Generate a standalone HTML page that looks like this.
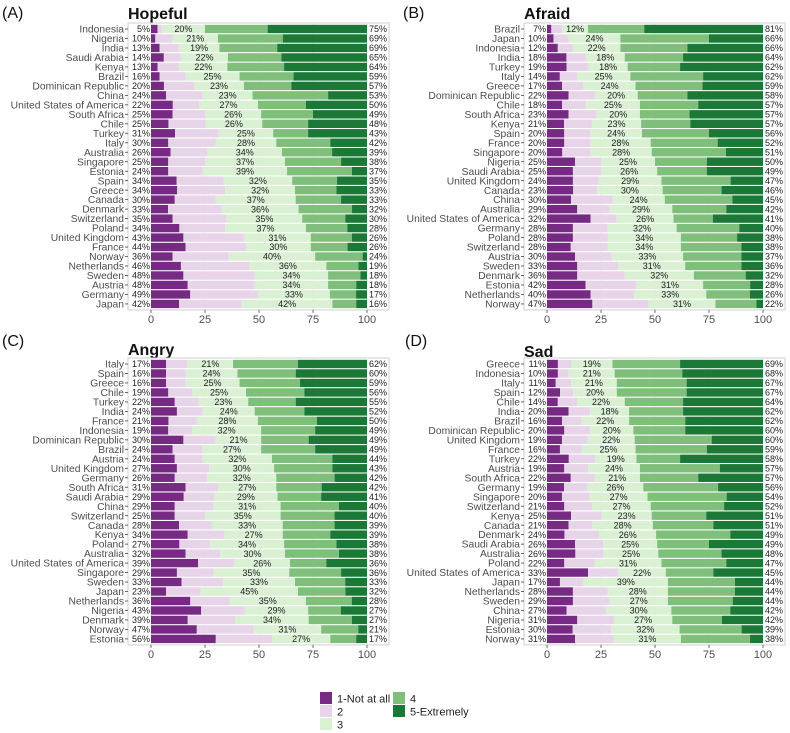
<!DOCTYPE html>
<html><head><meta charset="utf-8">
<style>
body{margin:0;background:#fff;font-family:"Liberation Sans",Arial,sans-serif;}
svg{display:block}
text{font-family:"Liberation Sans",Arial,sans-serif}
</style></head>
<body>
<svg id="chart" width="790" height="733" viewBox="0 0 790 733" xmlns="http://www.w3.org/2000/svg"></svg>
<script>
const countriesA=["Indonesia","Nigeria","India","Saudi Arabia","Kenya","Brazil","Dominican Republic","China","United States of America","South Africa","Chile","Turkey","Italy","Australia","Singapore","Estonia","Spain","Greece","Canada","Denmark","Switzerland","Poland","United Kingdom","France","Norway","Netherlands","Sweden","Austria","Germany","Japan"];
const notAtAllA=[3,2,4,6,3,4,6,7,10,10,8,11,8,9,8,8,12,12,11,8,10,13,15,16,10,14,15,17,18,13];
const lowA=[5,10,13,14,13,16,20,24,22,25,25,31,30,26,25,24,34,34,30,33,35,34,43,44,36,46,48,48,49,42];
const midA=[20,21,19,22,22,25,23,23,27,26,26,25,28,34,37,39,32,32,37,36,35,37,31,30,40,36,34,34,33,42];
const highA=[75,69,69,65,64,59,57,53,50,49,48,43,42,39,38,37,35,33,33,32,30,28,26,26,24,19,18,18,17,16];
const extremelyA=[46,39,42,40,38,34,35,18,28,25,27,27,17,16,12,7,14,14,12,7,10,9,7,9,2,4,3,5,5,5];

const countriesB=["Brazil","Japan","Indonesia","India","Turkey","Italy","Greece","Dominican Republic","Chile","South Africa","Kenya","Spain","France","Singapore","Nigeria","Saudi Arabia","United Kingdom","Canada","China","Australia","United States of America","Germany","Poland","Switzerland","Austria","Sweden","Denmark","Estonia","Netherlands","Norway"];
const notAtAllB=[2,3,5,9,9,6,7,10,7,10,8,8,8,7,13,12,12,12,11,14,20,12,12,11,13,14,14,18,20,21];
const lowB=[7,10,12,18,19,14,17,22,18,23,21,20,20,20,25,25,24,23,30,29,32,28,28,28,30,33,36,42,40,47];
const midB=[12,24,22,18,18,25,24,20,25,20,23,24,28,28,25,26,29,30,24,29,26,32,34,34,33,31,32,31,33,31];
const highB=[81,66,66,64,62,62,59,58,57,57,57,56,52,51,50,49,47,46,45,42,41,40,38,38,37,36,32,28,26,22];
const extremelyB=[55,25,35,37,38,28,28,35,30,34,34,25,21,17,26,26,15,19,14,17,23,11,12,10,10,10,8,6,6,3];

const countriesC=["Italy","Spain","Greece","Chile","Turkey","India","France","Indonesia","Dominican Republic","Brazil","Austria","United Kingdom","Germany","South Africa","Saudi Arabia","China","Switzerland","Canada","Kenya","Poland","Australia","United States of America","Singapore","Sweden","Japan","Netherlands","Nigeria","Denmark","Norway","Estonia"];
const notAtAllC=[7,7,7,8,11,12,8,8,15,10,11,12,11,16,15,11,11,13,17,13,16,22,12,14,7,18,23,17,21,30];
const lowC=[17,16,16,19,22,24,21,19,30,24,24,27,26,31,29,29,25,28,34,27,32,39,29,33,23,36,43,39,47,56];
const midC=[21,24,25,25,23,24,28,32,21,27,32,30,32,27,29,31,35,33,27,34,30,26,35,33,45,35,29,34,31,27];
const highC=[62,60,59,56,55,52,50,49,49,49,44,43,42,42,41,40,40,39,39,38,38,36,36,33,32,28,27,27,21,17];
const extremelyC=[32,33,31,29,33,29,23,24,27,24,16,16,15,21,21,13,15,15,17,14,13,19,12,10,10,7,12,7,4,5];

const countriesD=["Greece","Indonesia","Italy","Spain","Chile","India","Brazil","Dominican Republic","United Kingdom","France","Turkey","Austria","South Africa","Germany","Singapore","Switzerland","Kenya","Canada","Denmark","Saudi Arabia","Australia","Poland","United States of America","Japan","Netherlands","Sweden","China","Nigeria","Estonia","Norway"];
const notAtAllD=[5,5,4,6,5,10,7,8,7,6,10,8,11,8,7,8,11,10,8,13,13,8,19,6,12,12,9,14,12,13];
const lowD=[11,10,11,12,14,20,16,20,19,16,22,19,22,19,20,21,25,21,24,26,26,22,33,17,28,29,27,31,30,31];
const midD=[19,21,21,20,22,18,22,20,22,25,19,24,21,26,27,27,23,28,26,25,25,31,22,39,28,27,30,27,32,31];
const highD=[69,68,67,67,64,62,62,60,60,59,58,57,57,56,54,52,51,51,49,49,48,47,45,44,44,44,42,42,39,38];
const extremelyD=[38,37,35,35,37,37,36,36,24,26,38,20,30,21,17,18,26,23,15,25,19,17,23,13,13,14,15,19,10,6];

const xTicks=[0,25,50,75,100];
const legendLabels=["1-Not at all","2","3","4","5-Extremely"];
</script>
<script>
const NS="http://www.w3.org/2000/svg";
const svg=document.getElementById('chart');
const colors=["#762a83","#e7d4e8","#d9f0d3","#7fbf7b","#1b7837"];
function mk(tag,attrs,parent){const e=document.createElementNS(NS,tag);for(const k in attrs)e.setAttribute(k,attrs[k]);(parent||svg).appendChild(e);return e;}
function txt(s,attrs,parent){const e=mk('text',attrs,parent);e.textContent=s;return e;}

function panel(key,letter,title,letterX,letterY,titleX,titleY,boxX,boxY,x0,countries,p1,low,mid,high,p5){
  const g=mk('g',{});
  
  
  const W=216, n=countries.length, rowH=9.48, barH=8.4;
  const xs=v=>x0+v/100*W;
  const yc=i=>boxY+6+i*rowH;
  const boxW=261, boxH=12+(n-1)*rowH;
  const lt=txt(letter,{x:letterX,y:letterY,'font-size':16,fill:'#111'},g);
  
  
  const tt=txt(title,{x:titleX,y:titleY,'font-size':16,'font-weight':'bold',fill:'#111'},g);
  
  
  const box=mk('rect',{x:boxX,y:boxY,width:boxW,height:boxH,fill:'#fff',stroke:'#cfcfcf','stroke-width':1},g);
  
  
  xTicks.forEach(t=>{
    mk('line',{x1:xs(t),x2:xs(t),y1:boxY,y2:boxY+boxH,stroke:'#ebebeb','stroke-width':0.8},g);
    mk('line',{x1:xs(t),x2:xs(t),y1:boxY+boxH,y2:boxY+boxH+3,stroke:'#444','stroke-width':0.8},g);
    const tl=txt(String(t),{x:xs(t),y:boxY+boxH+13,'font-size':11,fill:'#4d4d4d','text-anchor':'middle'},g);
    
    
  });
  for(let i=0;i<n;i++){
    const c=yc(i), top=c-barH/2;
    const vals=[p1[i],low[i]-p1[i],mid[i],high[i]-p5[i],p5[i]];
    const tot=low[i]+mid[i]+high[i];
    let acc=0;
    vals.forEach((v,k)=>{
      const r=mk('rect',{x:xs(acc/tot*100),y:top,width:Math.max(0,xs((acc+v)/tot*100)-xs(acc/tot*100)),height:barH,fill:colors[k]},g);
      
      
      acc+=v;
    });
    const cl=txt(countries[i],{x:boxX-4,y:c+3.6,'font-size':10.3,fill:'#4d4d4d','text-anchor':'end'},g);
    
    
    mk('line',{x1:boxX-3,x2:boxX,y1:c,y2:c,stroke:'#444','stroke-width':0.8},g);
    const l1=txt(low[i]+'%',{x:x0-1,y:c+3.2,'font-size':9,fill:'#222','text-anchor':'end'},g);
    
    
    const mc=(low[i]+mid[i]/2)/tot*100;
    const l2=txt(mid[i]+'%',{x:xs(mc),y:c+3.2,'font-size':9,fill:'#222','text-anchor':'middle'},g);
    
    
    const l3=txt(high[i]+'%',{x:xs(100)+2,y:c+3.2,'font-size':9,fill:'#222'},g);
    
    
  }
}
panel('a','(A)','Hopeful',2,18,128,19,128,23,151,countriesA,notAtAllA,lowA,midA,highA,extremelyA);
panel('b','(B)','Afraid',403,18,524,19,524,23,547,countriesB,notAtAllB,lowB,midB,highB,extremelyB);
panel('c','(C)','Angry',2,346,128,355,128,358,151,countriesC,notAtAllC,lowC,midC,highC,extremelyC);
panel('d','(D)','Sad',405,346,524,357,524,358,547,countriesD,notAtAllD,lowD,midD,highD,extremelyD);

const lg=mk('g',{});


const pos=[[320,692],[320,705],[320,718],[393,692],[393,705]];
legendLabels.forEach((lab,k)=>{
  const sw=mk('rect',{x:pos[k][0],y:pos[k][1],width:12,height:12,fill:colors[k]},lg);
  
  
  const t=txt(lab,{x:pos[k][0]+17,y:pos[k][1]+10.5,'font-size':11,fill:'#222'},lg);
  
  
});
</script>
</body></html>
